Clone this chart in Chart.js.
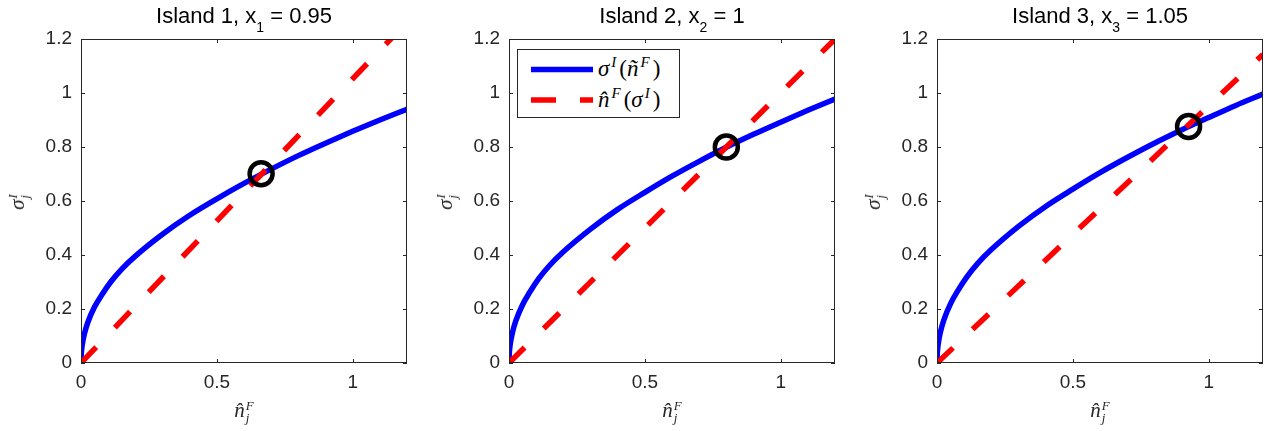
<!DOCTYPE html>
<html>
<head>
<meta charset="utf-8">
<script src="https://cdn.jsdelivr.net/npm/chart.js@4.4.1/dist/chart.umd.min.js"></script>
<style>
  body { margin: 0; background: #fff; }
  #wrap { position: relative; width: 1268px; height: 431px; overflow: hidden; font-family: "Liberation Sans", Arial, sans-serif; }
  .panel { position: absolute; top: 0; width: 412px; height: 431px; }
  .panel canvas { position: absolute; left: 0; top: 0; }
  .title { position: absolute; top: 5px; left: 81px; width: 326px; text-align: center; font-size: 22px; line-height: 22px; color: #000; white-space: nowrap; }
  .title .sb { font-size: 14px; vertical-align: -9px; }
  .math { font-family: "Liberation Serif", "DejaVu Serif", serif; font-style: italic; color: #262626; white-space: nowrap; }
  .up { font-style: normal; }
  .stack { display: inline-flex; flex-direction: column; font-size: 13px; line-height: 12px; vertical-align: 7px; margin-left: 1px; }
  .ylab { position: absolute; left: 17px; top: 202px; transform: translate(-50%, -50%) rotate(-90deg); font-size: 21px; line-height: 30px; }
  .xlab { position: absolute; left: 244px; top: 410px; transform: translate(-50%, -50%); font-size: 21px; line-height: 30px; }
  .legend { position: absolute; left: 517px; top: 49px; width: 161px; height: 67px; border: 1px solid #262626; background: #fff; }
  .legend svg { position: absolute; left: 0; top: 0; }
  .legend .row { position: absolute; left: 80px; font-size: 23px; line-height: 22px; color: #000; }
  .legend sup { font-size: 15px; vertical-align: 9px; line-height: 0; margin: 0 3px 0 2px; }
</style>
</head>
<body>
<div id="wrap"></div>
<script>
// axis ticks
const xTicks = [0, 0.5, 1];
const yTicks = [0, 0.2, 0.4, 0.6, 0.8, 1, 1.2];

// titles
const titles = [
  ['Island 1, x', '1', ' = 0.95'],
  ['Island 2, x', '2', ' = 1'],
  ['Island 3, x', '3', ' = 1.05']
];

// blue curve sigma^I(n~^F)
const curveX = [0, 0.001, 0.0025, 0.005, 0.0125, 0.025, 0.05, 0.075, 0.11, 0.15, 0.2, 0.3, 0.4, 0.5, 0.6, 0.7, 0.8, 0.9, 1.0, 1.1, 1.2];
const sigma1 = [0, 0.033, 0.05, 0.07, 0.108, 0.15, 0.208, 0.25, 0.301, 0.348, 0.396, 0.477, 0.547, 0.608, 0.665, 0.718, 0.768, 0.814, 0.858, 0.90, 0.94];
const sigma2 = [0, 0.034, 0.052, 0.073, 0.112, 0.156, 0.216, 0.26, 0.313, 0.362, 0.412, 0.496, 0.569, 0.632, 0.692, 0.747, 0.799, 0.847, 0.892, 0.936, 0.978];
const sigma3 = [0, 0.035, 0.053, 0.074, 0.114, 0.159, 0.22, 0.265, 0.319, 0.369, 0.42, 0.506, 0.58, 0.644, 0.705, 0.761, 0.814, 0.863, 0.909, 0.954, 0.996];

// red dashed line n^F(sigma^I)
const lineX = [0, 1.2];
const line1 = [0, 1.263];
const line2 = [0, 1.2];
const line3 = [0, 1.143];

// equilibrium markers
const markX = [0.663, 0.8, 0.926];
const markY = [0.701, 0.8, 0.876];

const curves = [sigma1, sigma2, sigma3];
const lines = [line1, line2, line3];

function pts(xs, ys) {
  return xs.map((v, i) => ({ x: v, y: ys[i] }));
}

// box round the axes with inward ticks
const frame = {
  id: 'frame',
  afterDatasetsDraw(chart) {
    const { ctx, chartArea: a, scales: { x, y } } = chart;
    ctx.save();
    ctx.strokeStyle = '#262626';
    ctx.lineWidth = 1;
    ctx.strokeRect(a.left + 0.5, a.top + 0.5, a.width - 1, a.height - 1);
    ctx.beginPath();
    xTicks.forEach(v => {
      const p = Math.round(x.getPixelForValue(v)) + 0.5;
      ctx.moveTo(p, a.bottom); ctx.lineTo(p, a.bottom - 4);
      ctx.moveTo(p, a.top); ctx.lineTo(p, a.top + 4);
    });
    yTicks.forEach(v => {
      const p = Math.round(y.getPixelForValue(v)) + 0.5;
      ctx.moveTo(a.left, p); ctx.lineTo(a.left + 4, p);
      ctx.moveTo(a.right, p); ctx.lineTo(a.right - 4, p);
    });
    ctx.stroke();
    ctx.restore();
  }
};

const wrap = document.getElementById('wrap');
const tickFont = { family: '"Liberation Sans", Arial, sans-serif', size: 19 };

for (let i = 0; i < 3; i++) {
  const panel = document.createElement('div');
  panel.className = 'panel';
  panel.style.left = (i * 428) + 'px';
  panel.innerHTML =
    '<canvas width="412" height="431"></canvas>' +
    '<div class="title">' + titles[i][0] + '<span class="sb">' + titles[i][1] + '</span>' + titles[i][2] + '</div>' +
    '<div class="math ylab">\u03C3<span class="stack"><span>I</span><span>j</span></span></div>' +
    '<div class="math xlab">n\u0302<span class="stack"><span>F</span><span>j</span></span></div>';
  wrap.appendChild(panel);

  new Chart(panel.querySelector('canvas'), {
    type: 'scatter',
    data: {
      datasets: [
        {
          data: pts([markX[i]], [markY[i]]),
          pointRadius: 11.5,
          pointBorderWidth: 4.5,
          pointBorderColor: '#000',
          pointBackgroundColor: 'rgba(0,0,0,0)',
          showLine: false,
          clip: false
        },
        {
          data: pts(lineX, lines[i]),
          showLine: true,
          borderColor: '#ff0000',
          borderWidth: 5.5,
          borderDash: [22, 27],
          pointRadius: 0,
          clip: 0
        },
        {
          data: pts(curveX, curves[i]),
          showLine: true,
          borderColor: '#0000ff',
          borderWidth: 5.5,
          cubicInterpolationMode: 'monotone',
          pointRadius: 0,
          clip: 0
        }
      ]
    },
    options: {
      responsive: false,
      animation: false,
      events: [],
      layout: { autoPadding: false, padding: { left: 0, top: 39, right: 5, bottom: 0 } },
      plugins: { legend: { display: false }, tooltip: { enabled: false } },
      scales: {
        x: {
          type: 'linear', min: 0, max: 1.2,
          grid: { display: false, drawTicks: false },
          border: { display: false },
          afterBuildTicks: s => { s.ticks = xTicks.map(v => ({ value: v })); },
          afterFit: s => { s.height = 68; s.paddingLeft = 0; s.paddingRight = 0; },
          ticks: { color: '#262626', font: tickFont, padding: 8, maxRotation: 0, callback: v => String(v) }
        },
        y: {
          type: 'linear', min: 0, max: 1.2,
          grid: { display: false, drawTicks: false },
          border: { display: false },
          afterBuildTicks: s => { s.ticks = yTicks.map(v => ({ value: v })); },
          afterFit: s => { s.width = 81; s.paddingTop = 0; s.paddingBottom = 0; },
          ticks: { color: '#262626', font: tickFont, padding: 9, callback: v => String(v) }
        }
      }
    },
    plugins: [frame]
  });
}

// legend in the middle panel
const legend = document.createElement('div');
legend.className = 'legend';
legend.innerHTML =
  '<svg width="161" height="67">' +
  '<line x1="13" y1="19.5" x2="75" y2="19.5" stroke="#0000ff" stroke-width="5.5"/>' +
  '<line x1="13" y1="50" x2="75" y2="50" stroke="#ff0000" stroke-width="5.5" stroke-dasharray="25 24"/>' +
  '</svg>' +
  '<div class="row math" style="top:8px;color:#000">\u03C3<sup>I</sup><span class="up">(</span>\u00F1<sup>F</sup><span class="up">)</span></div>' +
  '<div class="row math" style="top:39px;color:#000">n\u0302<sup>F</sup><span class="up">(</span>\u03C3<sup>I</sup><span class="up">)</span></div>';
wrap.appendChild(legend);
</script>
</body>
</html>
